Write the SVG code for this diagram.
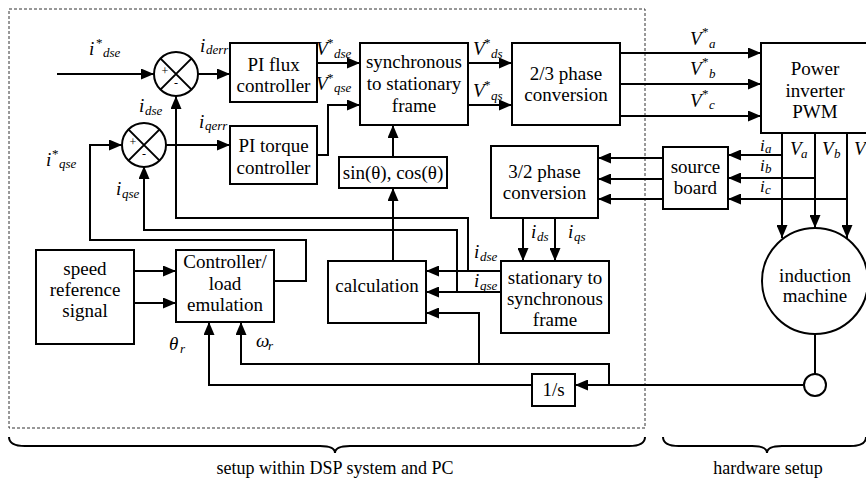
<svg xmlns="http://www.w3.org/2000/svg" width="866" height="479" viewBox="0 0 866 479">
<defs>
<marker id="ah" viewBox="0 0 13 11" markerWidth="13" markerHeight="11" refX="13" refY="5.5" orient="auto" markerUnits="userSpaceOnUse">
<path d="M0,0 L13,5.5 L0,11 z" fill="#000"/>
</marker>
</defs>
<style>
.box{fill:#fff;stroke:#000;stroke-width:2}
.w{fill:none;stroke:#000;stroke-width:2}
.a{marker-end:url(#ah)}
.t{font-family:"Liberation Serif","Times New Roman",serif;font-size:19px;text-anchor:middle;fill:#000}
.l{font-family:"Liberation Serif","Times New Roman",serif;font-size:19px;font-style:italic;fill:#000}
.m{font-size:17px}
.s{font-size:13px}
.n{font-style:normal}
.pm{font-family:"Liberation Serif",serif;font-size:12px;text-anchor:middle}
.cap{font-family:"Liberation Serif","Times New Roman",serif;font-size:18px;text-anchor:middle}
</style>
<rect x="9" y="9" width="636" height="419" fill="none" stroke="#333" stroke-width="1" stroke-dasharray="3,2"/>
<g id="connectors">
<path class="w a" d="M57,74 H154"/>
<path class="w a" d="M198,74 H230"/>
<path class="w a" d="M317,63 H360"/>
<path class="w a" d="M317,155 H328 V105 H360"/>
<path class="w a" d="M468,63 H512"/>
<path class="w a" d="M468,105 H512"/>
<path class="w a" d="M620,53 H761"/>
<path class="w a" d="M620,84 H761"/>
<path class="w a" d="M620,116 H761"/>
<path class="w a" d="M393,157 V125"/>
<path class="w a" d="M393,261 V188"/>
<path class="w a" d="M166,145 H230"/>
<path class="w a" d="M274,281 H306 V240 H90 V145 H122"/>
<path class="w a" d="M501,271 H426"/>
<path class="w a" d="M468,271 V218 H176 V96"/>
<path class="w a" d="M501,292 H426"/>
<path class="w a" d="M457,292 V230 H144 V166"/>
<path class="w a" d="M523,218 V261"/>
<path class="w a" d="M555,218 V261"/>
<path class="w a" d="M663,158 H598"/>
<path class="w a" d="M663,179 H598"/>
<path class="w a" d="M663,199 H598"/>
<path class="w a" d="M782,155 H728"/>
<path class="w a" d="M815,178 H728"/>
<path class="w a" d="M847,199 H728"/>
<path class="w a" d="M782,133 V238"/>
<path class="w a" d="M815,133 V228"/>
<path class="w a" d="M847,133 V238"/>
<path class="w a" d="M134,271 H176"/>
<path class="w a" d="M134,303 H176"/>
<path class="w" d="M815,334 V374"/>
<path class="w a" d="M803,385 H575"/>
<path class="w a" d="M532,385 H209 V322"/>
<path class="w a" d="M609,385 V364 H241 V322"/>
<path class="w a" d="M479,364 V313 H426"/>
</g>
<g id="sum1">
<circle cx="176" cy="74" r="22" fill="#fff" stroke="#000" stroke-width="2"/>
<path class="w" d="M160.4,58.4 L191.6,89.6 M191.6,58.4 L160.4,89.6"/>
<text class="pm" x="165" y="75">+</text>
<text class="pm" x="176" y="87">-</text>
</g>
<g id="sum2">
<circle cx="144" cy="145" r="22" fill="#fff" stroke="#000" stroke-width="2"/>
<path class="w" d="M128.4,129.4 L159.6,160.6 M159.6,129.4 L128.4,160.6"/>
<text class="pm" x="133" y="146">+</text>
<text class="pm" x="144" y="158">-</text>
</g>
<g id="pi-flux">
<rect class="box" x="230" y="43" width="87" height="59"/>
<text class="t" x="273.5" y="71">PI flux</text>
<text class="t" x="273.5" y="92">controller</text>
</g>
<g id="pi-torque">
<rect class="box" x="230" y="126" width="87" height="58"/>
<text class="t" x="273.5" y="152">PI torque</text>
<text class="t" x="273.5" y="174">controller</text>
</g>
<g id="sync-stat">
<rect class="box" x="360" y="43" width="108" height="82"/>
<text class="t" x="414" y="68">synchronous</text>
<text class="t" x="414" y="90">to stationary</text>
<text class="t" x="414" y="112">frame</text>
</g>
<g id="phase23">
<rect class="box" x="512" y="43" width="108" height="82"/>
<text class="t" x="566" y="80">2/3 phase</text>
<text class="t" x="566" y="101">conversion</text>
</g>
<g id="sincos">
<rect class="box" x="339" y="157" width="108" height="31"/>
<text class="t" x="393" y="179">sin(θ), cos(θ)</text>
</g>
<g id="inverter">
<rect class="box" x="761" y="43" width="112" height="90"/>
<text class="t" x="815" y="75">Power</text>
<text class="t" x="815" y="97">inverter</text>
<text class="t" x="815" y="118">PWM</text>
</g>
<g id="phase32">
<rect class="box" x="491" y="146" width="107" height="72"/>
<text class="t" x="544.5" y="178">3/2 phase</text>
<text class="t" x="544.5" y="199">conversion</text>
</g>
<g id="source-board">
<rect class="box" x="663" y="147" width="65" height="62"/>
<text class="t" x="695.5" y="173">source</text>
<text class="t" x="695.5" y="194">board</text>
</g>
<g id="calculation">
<rect class="box" x="328" y="261" width="98" height="62"/>
<text class="t" x="377" y="292">calculation</text>
</g>
<g id="stat-sync">
<rect class="box" x="501" y="261" width="108" height="72"/>
<text class="t" x="555" y="284">stationary to</text>
<text class="t" x="555" y="305">synchronous</text>
<text class="t" x="555" y="326">frame</text>
</g>
<g id="speed-ref">
<rect class="box" x="36" y="250" width="98" height="94"/>
<text class="t" x="85" y="275">speed</text>
<text class="t" x="85" y="296">reference</text>
<text class="t" x="85" y="317">signal</text>
</g>
<g id="controller">
<rect class="box" x="176" y="250" width="98" height="72"/>
<text class="t" x="225" y="268">Controller/</text>
<text class="t" x="225" y="290">load</text>
<text class="t" x="225" y="311">emulation</text>
</g>
<g id="induction-machine">
<circle cx="815" cy="281" r="53" fill="#fff" stroke="#000" stroke-width="2"/>
<text class="t" x="815" y="282">induction</text>
<text class="t" x="815" y="302">machine</text>
</g>
<g id="sensor">
<circle cx="815" cy="385" r="11" fill="#fff" stroke="#000" stroke-width="2"/>
</g>
<g id="integrator">
<rect class="box" x="532" y="374" width="43" height="32"/>
<text class="t" x="553.5" y="396">1/s</text>
</g>
<g id="labels">
<text class="l" x="89" y="55">i</text><text class="l s n" x="96" y="47">*</text><text class="l s" x="103" y="57">dse</text>
<text class="l" x="200" y="52">i</text><text class="l s" x="206" y="54">derr</text>
<text class="l" x="139" y="112">i</text><text class="l s" x="145" y="115">dse</text>
<text class="l" x="199" y="128">i</text><text class="l s" x="205" y="130">qerr</text>
<text class="l" x="46" y="166">i</text><text class="l s n" x="52" y="158">*</text><text class="l s" x="59" y="168">qse</text>
<text class="l" x="116" y="195">i</text><text class="l s" x="122" y="198">qse</text>
<text class="l" x="316" y="55">V</text><text class="l s n" x="327" y="47">*</text><text class="l s" x="334" y="58">dse</text>
<text class="l" x="316" y="90">V</text><text class="l s n" x="327" y="82">*</text><text class="l s" x="334" y="92">qse</text>
<text class="l" x="473" y="55">V</text><text class="l s n" x="484" y="47">*</text><text class="l s" x="491" y="58">ds</text>
<text class="l" x="473" y="97">V</text><text class="l s n" x="484" y="89">*</text><text class="l s" x="491" y="100">qs</text>
<text class="l" x="690" y="45">V</text><text class="l s n" x="702" y="36">*</text><text class="l s" x="709" y="48">a</text>
<text class="l" x="690" y="75">V</text><text class="l s n" x="702" y="66">*</text><text class="l s" x="709" y="78">b</text>
<text class="l" x="690" y="107">V</text><text class="l s n" x="702" y="98">*</text><text class="l s" x="709" y="109">c</text>
<text class="l m" x="760" y="151">i</text><text class="l s" x="765" y="153">a</text>
<text class="l m" x="760" y="171">i</text><text class="l s" x="765" y="173">b</text>
<text class="l m" x="760" y="192">i</text><text class="l s" x="765" y="194">c</text>
<text class="l" x="790" y="155">V</text><text class="l s" x="801" y="158">a</text>
<text class="l" x="822" y="155">V</text><text class="l s" x="834" y="158">b</text>
<text class="l" x="854" y="155">V</text>
<text class="l" x="531" y="238">i</text><text class="l s" x="537" y="241">ds</text>
<text class="l" x="568" y="238">i</text><text class="l s" x="574" y="241">qs</text>
<text class="l" x="474" y="258">i</text><text class="l s" x="480" y="261">dse</text>
<text class="l" x="474" y="287">i</text><text class="l s" x="480" y="290">qse</text>
<text class="l" x="169" y="350">θ</text><text class="l s" x="180" y="353">r</text>
<text class="l" x="256" y="347">ω</text><text class="l s" x="268" y="350">r</text>
</g>
<g id="braces">
<path class="w" stroke-width="1.6" d="M9,437 Q9,446 25,446 L320,446 Q335,446 335,453 Q335,446 350,446 L629,446 Q645,446 645,437"/>
<path class="w" stroke-width="1.6" d="M663,437 Q663,446 679,446 L752,446 Q767,446 767,453 Q767,446 782,446 L850,446 Q866,446 866,437"/>
<text class="cap" x="335" y="474">setup within DSP system and PC</text>
<text class="cap" x="768" y="474">hardware setup</text>
</g>
</svg>
